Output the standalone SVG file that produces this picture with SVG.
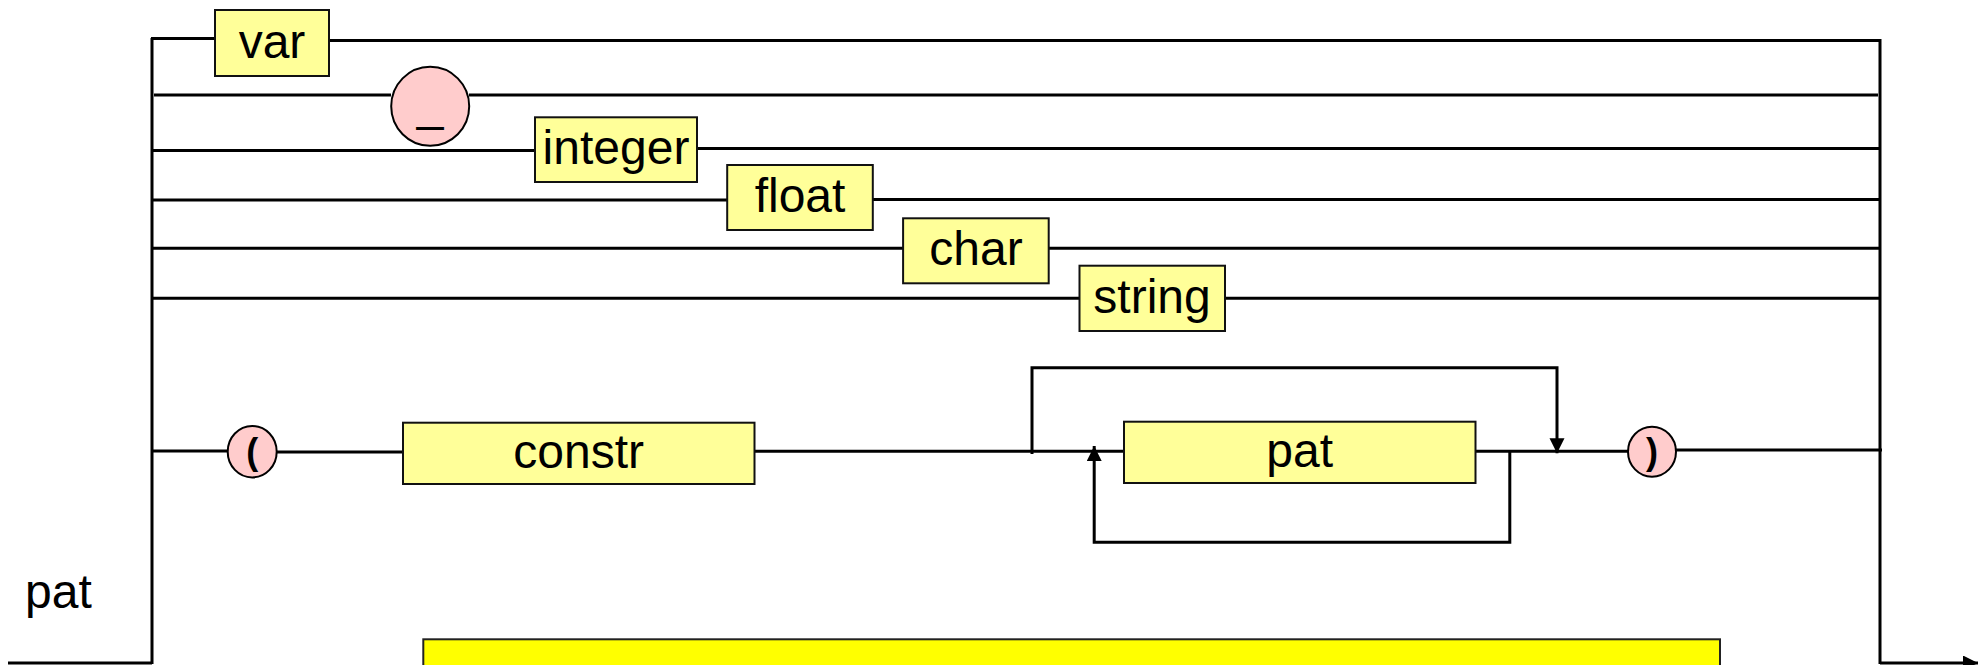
<svg xmlns="http://www.w3.org/2000/svg" width="1981" height="665" viewBox="0 0 1981 665">
<style>
.ln{stroke:#000;stroke-width:3;fill:none}
.box{fill:#ffff99;stroke:#111;stroke-width:2}
.ell{fill:#ffcccc;stroke:#000;stroke-width:2}
.t{font-family:"Liberation Sans",Arial,sans-serif;font-size:48px;fill:#000;text-anchor:middle}
.p{font-family:"Liberation Sans",Arial,sans-serif;font-size:36px;font-weight:bold;fill:#000;text-anchor:middle}
</style>
<defs>
<marker id="arr" markerUnits="userSpaceOnUse" markerWidth="16" markerHeight="16" refX="15" refY="7.5" orient="auto">
<path d="M0,0 L15,7.5 L0,15 z" fill="#000"/>
</marker>
</defs>
<rect width="1981" height="665" fill="#fff"/>
<g id="connectors">
<line class="ln" x1="152" y1="38" x2="152" y2="664"/>
<line class="ln" x1="1880" y1="39" x2="1880" y2="664"/>
<line class="ln" x1="8" y1="663" x2="152" y2="663"/>
<line class="ln" x1="1880" y1="663" x2="1978" y2="663" marker-end="url(#arr)"/>
<line class="ln" x1="151" y1="38.5" x2="215" y2="38.5"/>
<line class="ln" x1="329" y1="40.5" x2="1881" y2="40.5"/>
<line class="ln" x1="154" y1="95" x2="391" y2="95"/>
<line class="ln" x1="469" y1="95" x2="1878" y2="95"/>
<line class="ln" x1="152" y1="150.5" x2="535" y2="150.5"/>
<line class="ln" x1="697" y1="148.5" x2="1880" y2="148.5"/>
<line class="ln" x1="152" y1="200" x2="727" y2="200"/>
<line class="ln" x1="873" y1="199.5" x2="1880" y2="199.5"/>
<line class="ln" x1="152" y1="248.3" x2="903" y2="248.3"/>
<line class="ln" x1="1049" y1="248.3" x2="1880" y2="248.3"/>
<line class="ln" x1="152" y1="298.3" x2="1080" y2="298.3"/>
<line class="ln" x1="1225" y1="298.3" x2="1880" y2="298.3"/>
<line class="ln" x1="152" y1="451" x2="228" y2="451"/>
<line class="ln" x1="276" y1="452" x2="403" y2="452"/>
<line class="ln" x1="754.5" y1="451.3" x2="1124" y2="451.3"/>
<line class="ln" x1="1475.5" y1="451.3" x2="1628" y2="451.3"/>
<line class="ln" x1="1676" y1="450" x2="1882" y2="450"/>
<path class="ln" d="M1032,454 V367.7 H1557 V453.3" marker-end="url(#arr)"/>
<path class="ln" d="M1509.8,451.3 V542.3 H1094.2 V446" marker-end="url(#arr)"/>
</g>
<g id="node-var"><rect class="box" x="215" y="10" width="114" height="66"/><text class="t" x="272" y="58">var</text></g>
<g id="node-underscore"><ellipse class="ell" cx="430.2" cy="106.3" rx="39" ry="39.5"/><text class="t" x="430.2" y="120">_</text></g>
<g id="node-integer"><rect class="box" x="535" y="117.3" width="162" height="64.7"/><text class="t" x="616" y="164">integer</text></g>
<g id="node-float"><rect class="box" x="727.2" y="165" width="145.6" height="65"/><text class="t" x="800" y="212">float</text></g>
<g id="node-char"><rect class="box" x="903.1" y="218.3" width="145.6" height="65"/><text class="t" x="976" y="265">char</text></g>
<g id="node-string"><rect class="box" x="1079.5" y="265.7" width="145.5" height="65.3"/><text class="t" x="1152" y="313">string</text></g>
<g id="node-lparen"><ellipse class="ell" cx="252.2" cy="451.7" rx="24.5" ry="25.7"/><text class="p" x="252.2" y="464">(</text></g>
<g id="node-constr"><rect class="box" x="403" y="422.7" width="351.5" height="61.3"/><text class="t" x="578.7" y="468">constr</text></g>
<g id="node-pat"><rect class="box" x="1124" y="421.7" width="351.5" height="61.3"/><text class="t" x="1299.7" y="467">pat</text></g>
<g id="node-rparen"><ellipse class="ell" cx="1652" cy="451.7" rx="24" ry="25"/><text class="p" x="1652" y="464">)</text></g>
<g id="label-pat"><text class="t" x="25" y="608" style="text-anchor:start">pat</text></g>
<g id="bottom-box"><rect x="423.3" y="639.3" width="1296.7" height="40" fill="#ffff00" stroke="#222" stroke-width="2"/></g>
</svg>
